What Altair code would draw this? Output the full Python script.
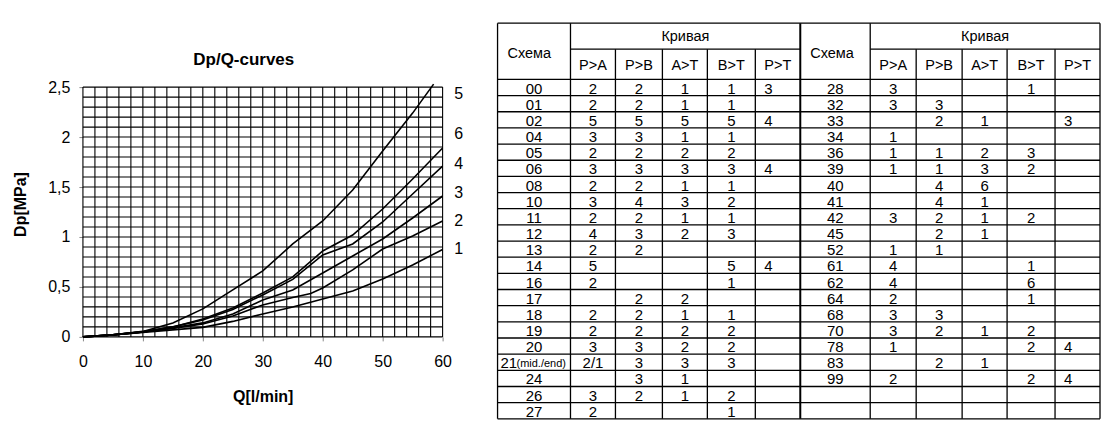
import altair as alt
import pandas as pd
import numpy as np

FONT = "Liberation Sans"

# ---------------- curves (Q [l/min], dp [MPa]) ----------------
c1_q = [0, 5, 10, 15, 20, 25, 30, 35, 40, 45, 50, 55, 60]
c1_dp = [0, 0.02, 0.045, 0.07, 0.095, 0.155, 0.23, 0.30, 0.38, 0.46, 0.58, 0.72, 0.875]
c2_q = [0, 5, 10, 15, 20, 25, 30, 35, 38, 40, 45, 50, 55, 60]
c2_dp = [0, 0.02, 0.05, 0.085, 0.13, 0.21, 0.32, 0.395, 0.435, 0.49, 0.67, 0.88, 1.01, 1.16]
c3_q = [0, 5, 10, 15, 20, 25, 30, 35, 40, 45, 50, 55, 60]
c3_dp = [0, 0.02, 0.05, 0.09, 0.14, 0.23, 0.37, 0.47, 0.64, 0.81, 0.98, 1.19, 1.41]
c4_q = [0, 5, 10, 15, 20, 25, 30, 35, 40, 45, 50, 55, 60]
c4_dp = [0, 0.02, 0.05, 0.10, 0.17, 0.275, 0.42, 0.575, 0.82, 0.93, 1.15, 1.43, 1.71]
c6_q = [0, 5, 10, 15, 20, 25, 30, 35, 40, 45, 50, 55, 60]
c6_dp = [0, 0.02, 0.05, 0.10, 0.18, 0.29, 0.44, 0.60, 0.86, 1.02, 1.28, 1.58, 1.89]
c5_q = [0, 5, 10, 15, 20, 25, 30, 35, 40, 45, 50, 55, 58.5]
c5_dp = [0, 0.02, 0.055, 0.14, 0.28, 0.47, 0.66, 0.93, 1.16, 1.47, 1.86, 2.24, 2.53]

curve_names = ["1", "2", "3", "4", "6", "5"]
curve_q = [c1_q, c2_q, c3_q, c4_q, c6_q, c5_q]
curve_dp = [c1_dp, c2_dp, c3_dp, c4_dp, c6_dp, c5_dp]

# labels at right end of the plot
label_text = ["5", "6", "4", "3", "2", "1"]
label_dp = [2.43, 2.03, 1.73, 1.44, 1.16, 0.88]

x_ticks = [0, 10, 20, 30, 40, 50, 60]
y_ticks = [0, 0.5, 1, 1.5, 2, 2.5]

# ---------------- table ----------------
hdr_schema = "Схема"
hdr_curve = "Кривая"
hdr_cols = ["P>A", "P>B", "A>T", "B>T", "P>T"]

left_schema = ["00", "01", "02", "04", "05", "06", "08", "10", "11", "12", "13",
               "14", "16", "17", "18", "19", "20", "21(mid./end)", "24", "26", "27"]
left_PA = ["2", "2", "5", "3", "2", "3", "2", "3", "2", "4", "2", "5", "2", "", "2", "2", "3", "2/1", "", "3", "2"]
left_PB = ["2", "2", "5", "3", "2", "3", "2", "4", "2", "3", "2", "", "", "2", "2", "2", "3", "3", "3", "2", ""]
left_AT = ["1", "1", "5", "1", "2", "3", "1", "3", "1", "2", "", "", "", "2", "1", "2", "2", "3", "1", "1", ""]
left_BT = ["1", "1", "5", "1", "2", "3", "1", "2", "1", "3", "", "5", "1", "", "1", "2", "2", "3", "", "2", "1"]
left_PT = ["3", "", "4", "", "", "4", "", "", "", "", "", "4", "", "", "", "", "", "", "", "", ""]

right_schema = ["28", "32", "33", "34", "36", "39", "40", "41", "42", "45", "52",
                "61", "62", "64", "68", "70", "78", "83", "99", "", ""]
right_PA = ["3", "3", "", "1", "1", "1", "", "", "3", "", "1", "4", "4", "2", "3", "3", "1", "", "2", "", ""]
right_PB = ["", "3", "2", "", "1", "1", "4", "4", "2", "2", "1", "", "", "", "3", "2", "", "2", "", "", ""]
right_AT = ["", "", "1", "", "2", "3", "6", "1", "1", "1", "", "", "", "", "", "1", "", "1", "", "", ""]
right_BT = ["1", "", "", "", "3", "2", "", "", "2", "", "", "1", "6", "1", "", "2", "2", "", "2", "", ""]
right_PT = ["", "", "3", "", "", "", "", "", "", "", "", "", "", "", "", "", "4", "", "4", "", ""]

# ================= left chart =================
PW, PH = 360, 314
YMAX_VIEW = 3.14
xs = alt.Scale(domain=[0, 60], nice=False, zero=False)
ys = alt.Scale(domain=[0, YMAX_VIEW], nice=False, zero=False)

x_axis = alt.Axis(values=x_ticks, grid=False, domain=False, ticks=True, tickSize=4,
                  tickColor="#888888", labelFontSize=16, labelColor="black", labelFont=FONT,
                  labelPadding=13, labelFlush=False, title="Q[l/min]", titleFontSize=16,
                  titleFontWeight="bold", titleFont=FONT, titleColor="black", titlePadding=19)
y_axis = alt.Axis(values=y_ticks, grid=False, domain=False, ticks=True, tickSize=4,
                  tickColor="#888888", labelFontSize=16, labelColor="black", labelFont=FONT,
                  labelPadding=9, labelFlush=False,
                  labelExpr="replace(format(datum.value, '~g'), '.', ',')",
                  title="Dp[MPa]", titleFontSize=16, titleFontWeight="bold", titleFont=FONT,
                  titleColor="black", titlePadding=19, titleY=181)

grid_v = pd.DataFrame({"Q": np.arange(0, 61, 2), "y0": 0.0, "y1": 2.5})
grid_h = pd.DataFrame({"dp": np.round(np.arange(0, 2.501, 0.1), 2), "x0": 0.0, "x1": 60.0})

vrules = alt.Chart(grid_v).mark_rule(color="#000000", strokeWidth=1.1).encode(
    x=alt.X("Q:Q", scale=xs, axis=x_axis),
    y=alt.Y("y0:Q", scale=ys, axis=y_axis),
    y2="y1:Q",
)
hrules = alt.Chart(grid_h).mark_rule(color="#000000", strokeWidth=1.1).encode(
    x=alt.X("x0:Q", scale=xs), x2="x1:Q", y=alt.Y("dp:Q", scale=ys)
)

rows = []
for name, qq, dd in zip(curve_names, curve_q, curve_dp):
    for q, d in zip(qq, dd):
        rows.append({"curve": name, "Q": q, "dp": d})
curves_df = pd.DataFrame(rows)
lines = alt.Chart(curves_df).mark_line(color="black", strokeWidth=1.6).encode(
    x=alt.X("Q:Q", scale=xs), y=alt.Y("dp:Q", scale=ys), detail="curve:N", order="Q:Q"
)

lab_df = pd.DataFrame({"t": label_text, "dp": label_dp, "Q": 60.0})
labels = alt.Chart(lab_df).mark_text(fontSize=16, font=FONT, color="black", align="center",
                                     baseline="middle", dx=16).encode(
    x=alt.X("Q:Q", scale=xs), y=alt.Y("dp:Q", scale=ys), text="t:N"
)

left = alt.layer(vrules, hrules, lines, labels).properties(
    width=PW, height=PH,
    title=alt.TitleParams(text="Dp/Q-curves", fontSize=17, fontWeight="bold", font=FONT,
                          color="black", dx=-19, dy=50, anchor="middle"),
)

# ================= table =================
col_w = [73, 45, 47, 45, 48, 45, 70, 46, 46, 45, 48, 45]
edges = np.concatenate([[0], np.cumsum(col_w)]).astype(float)
TW = float(edges[-1])
TH = 396.0
HDR1, HDR2 = 26.0, 30.3
NROWS = 21
data_top = HDR1 + HDR2
row_h = (TH - data_top) / NROWS

tx = alt.Scale(domain=[0, TW], nice=False, zero=False)
ty = alt.Scale(domain=[0, TH], nice=False, zero=False, reverse=True)

# lines
h_seg = [{"y": 0.0, "x0": 0.0, "x1": TW}]
for h in (0, 6):
    h_seg.append({"y": HDR1, "x0": edges[h + 1], "x1": edges[h + 6]})
for i in range(NROWS + 1):
    h_seg.append({"y": data_top + i * row_h, "x0": 0.0, "x1": TW})
h_df = pd.DataFrame(h_seg)

v_seg = []
for k, e in enumerate(edges):
    full = k in (0, 1, 6, 7, 12)
    v_seg.append({"x": e, "y0": 0.0 if full else HDR1, "y1": TH, "w": 2.0 if k == 6 else 1.3})
v_df = pd.DataFrame(v_seg)

t_h = alt.Chart(h_df).mark_rule(color="#000000", strokeWidth=1.3).encode(
    x=alt.X("x0:Q", scale=tx, axis=None), x2="x1:Q", y=alt.Y("y:Q", scale=ty, axis=None)
)
t_v = alt.Chart(v_df).mark_rule(color="#000000").encode(
    x=alt.X("x:Q", scale=tx, axis=None), y=alt.Y("y0:Q", scale=ty, axis=None), y2="y1:Q",
    strokeWidth=alt.StrokeWidth("w:Q", scale=None),
)

center_cells, left_cells, notes = [], [], []
halves = [(left_schema, [left_PA, left_PB, left_AT, left_BT, left_PT]),
          (right_schema, [right_PA, right_PB, right_AT, right_BT, right_PT])]
for hi, (schema, cols) in enumerate(halves):
    base = hi * 6
    for i in range(NROWS):
        yb = data_top + (i + 1) * row_h
        s = schema[i]
        if s:
            if "(" in s:
                main, note = s.split("(", 1)
                left_cells.append({"x": edges[base], "y": yb, "t": main, "dx": 3})
                notes.append({"x": edges[base], "y": yb, "t": "(" + note})
            else:
                center_cells.append({"x": (edges[base] + edges[base + 1]) / 2, "y": yb, "t": s})
        for j, vals in enumerate(cols):
            v = vals[i]
            if not v:
                continue
            c0, c1 = edges[base + 1 + j], edges[base + 2 + j]
            if j == 4:
                left_cells.append({"x": c0, "y": yb, "t": v, "dx": 9})
            else:
                center_cells.append({"x": (c0 + c1) / 2, "y": yb, "t": v})

cc = alt.Chart(pd.DataFrame(center_cells)).mark_text(
    fontSize=15, font=FONT, color="black", align="center", baseline="alphabetic", dy=-2
).encode(x=alt.X("x:Q", scale=tx, axis=None), y=alt.Y("y:Q", scale=ty, axis=None), text="t:N")

lc_df = pd.DataFrame(left_cells)
lc_layers = []
for dxv in sorted(lc_df["dx"].unique()):
    sub = lc_df[lc_df["dx"] == dxv]
    lc_layers.append(alt.Chart(sub).mark_text(
        fontSize=15, font=FONT, color="black", align="left", baseline="alphabetic", dy=-2, dx=float(dxv)
    ).encode(x=alt.X("x:Q", scale=tx, axis=None), y=alt.Y("y:Q", scale=ty, axis=None), text="t:N"))

nt = alt.Chart(pd.DataFrame(notes)).mark_text(
    fontSize=11, font=FONT, color="black", align="left", baseline="alphabetic", dy=-3, dx=19
).encode(x=alt.X("x:Q", scale=tx, axis=None), y=alt.Y("y:Q", scale=ty, axis=None), text="t:N")

hdr_rows = []
for hi in range(2):
    base = hi * 6
    hdr_rows.append({"x": edges[base], "y": (HDR1 + HDR2) / 2 + 3, "t": hdr_schema, "kind": "schema"})
    hdr_rows.append({"x": (edges[base + 1] + edges[base + 6]) / 2, "y": HDR1 / 2 + 1, "t": hdr_curve, "kind": "c"})
    for j, h in enumerate(hdr_cols):
        hdr_rows.append({"x": (edges[base + 1 + j] + edges[base + 2 + j]) / 2,
                         "y": HDR1 + HDR2 / 2 + 2, "t": h, "kind": "c"})
hdr_df = pd.DataFrame(hdr_rows)
hdr_c = alt.Chart(hdr_df[hdr_df["kind"] == "c"]).mark_text(
    fontSize=14.5, font=FONT, color="black", align="center", baseline="middle"
).encode(x=alt.X("x:Q", scale=tx, axis=None), y=alt.Y("y:Q", scale=ty, axis=None), text="t:N")
hdr_s = alt.Chart(hdr_df[hdr_df["kind"] == "schema"]).mark_text(
    fontSize=14.5, font=FONT, color="black", align="left", baseline="middle", dx=10
).encode(x=alt.X("x:Q", scale=tx, axis=None), y=alt.Y("y:Q", scale=ty, axis=None), text="t:N")

table = alt.layer(t_h, t_v, cc, *lc_layers, nt, hdr_c, hdr_s).properties(width=TW, height=TH)

chart = alt.hconcat(left, table, spacing=55, bounds="flush").properties(
    padding={"left": 4, "top": 14, "right": 0, "bottom": 4}
).configure(font=FONT).configure_view(stroke="transparent", strokeWidth=0)

chart.save("out.html", embed_options={"renderer": "svg", "actions": False})
